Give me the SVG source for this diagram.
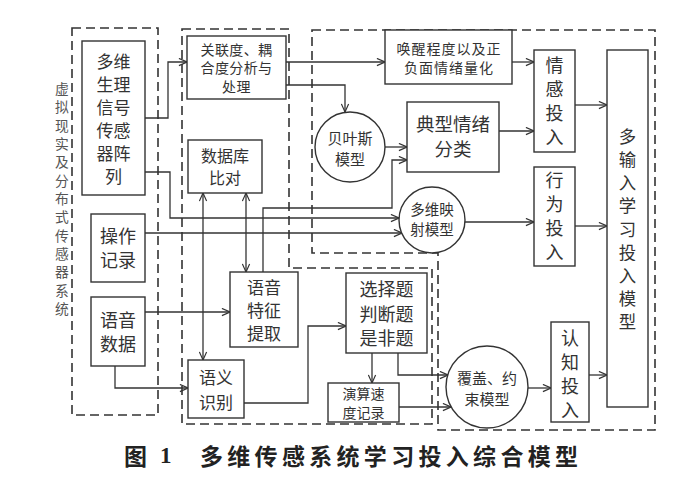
<svg xmlns="http://www.w3.org/2000/svg" width="700" height="491" viewBox="0 0 700 491">
<style>
.bx{fill:#fff;stroke:#333;stroke-width:1.4}
.ds{fill:none;stroke:#333;stroke-width:1.6;stroke-dasharray:9 5}
.ln{fill:none;stroke:#333;stroke-width:1.3}
text{font-family:"Noto Sans CJK SC","Noto Sans CJK TC",sans-serif;fill:#333;text-anchor:middle;dominant-baseline:central}
.t14{font-size:14px}.t145{font-size:14.5px}.t15{font-size:15px}.t16{font-size:16px}.t17{font-size:17px}.t18{font-size:18px}.t185{font-size:18.5px}.t174{font-size:17.4px}
.lab{font-size:13.8px;fill:#555}
.cap{font-size:23px;font-weight:bold;fill:#222;text-anchor:start}
</style>
<defs>
<marker id="ar" viewBox="0 0 10 10" refX="10" refY="5" markerWidth="9" markerHeight="9" markerUnits="userSpaceOnUse" orient="auto-start-reverse">
<path d="M1,1 L10,5 L1,9" fill="none" stroke="#333" stroke-width="1.3"/>
</marker>
</defs>
<rect width="700" height="491" fill="#fff"/>
<g id="regions">
<rect class="ds" x="72" y="28" width="86" height="387"/>
<path class="ds" d="M182,29 H289 V268 H432 V424 H182 Z"/>
<path class="ds" d="M312,30 H655 V430 H438 V253 H312 Z"/>
</g>
<g id="region-label">
<text class="lab"><tspan x="62" y="88">虚</tspan><tspan x="62" y="106.3">拟</tspan><tspan x="62" y="124.7">现</tspan><tspan x="62" y="143">实</tspan><tspan x="62" y="161.3">及</tspan><tspan x="62" y="179.7">分</tspan><tspan x="62" y="198">布</tspan><tspan x="62" y="216.3">式</tspan><tspan x="62" y="234.7">传</tspan><tspan x="62" y="253">感</tspan><tspan x="62" y="271.3">器</tspan><tspan x="62" y="289.7">系</tspan><tspan x="62" y="308">统</tspan></text>
</g>
<g id="connectors" marker-end="url(#ar)">
<path class="ln" d="M145,118 H168 V62 H187"/>
<path class="ln" d="M145,172 H170 V218 H399"/>
<path class="ln" d="M145,233 H402"/>
<path class="ln" d="M286,62 H385"/>
<path class="ln" d="M286,85 H345 V112"/>
<path class="ln" d="M385,147 H407"/>
<path class="ln" d="M263,272 V208 H392 V160 H407"/>
<path class="ln" d="M512,62 H534"/>
<path class="ln" d="M499,131 H534"/>
<path class="ln" d="M575,105 H607"/>
<path class="ln" d="M465,222 H534"/>
<path class="ln" d="M575,226 H607"/>
<path class="ln" d="M528,388 H551"/>
<path class="ln" d="M589,375 H607"/>
<path class="ln" d="M203,193 V360" marker-start="url(#ar)"/>
<path class="ln" d="M246,193 V272" marker-start="url(#ar)"/>
<path class="ln" d="M145,312 H230"/>
<path class="ln" d="M115,366 V388 H188"/>
<path class="ln" d="M244,403 H308 V326 H346"/>
<path class="ln" d="M372,353 V383"/>
<path class="ln" d="M398,353 V375 H448"/>
<path class="ln" d="M399,407 H451"/>
</g>
<g id="sensor-array">
<rect class="bx" x="82" y="41" width="63" height="154"/>
<text class="t17"><tspan x="113.5" y="60">多维</tspan><tspan x="113.5" y="83">生理</tspan><tspan x="113.5" y="106">信号</tspan><tspan x="113.5" y="129">传感</tspan><tspan x="113.5" y="152">器阵</tspan><tspan x="113.5" y="175">列</tspan></text>
</g>
<g id="operation-record">
<rect class="bx" x="91" y="214" width="54" height="68"/>
<text class="t18"><tspan x="118" y="235">操作</tspan><tspan x="118" y="259">记录</tspan></text>
</g>
<g id="voice-data">
<rect class="bx" x="91" y="297" width="54" height="69"/>
<text class="t18"><tspan x="118" y="319">语音</tspan><tspan x="118" y="343">数据</tspan></text>
</g>
<g id="correlation">
<rect class="bx" x="187" y="36" width="99" height="63"/>
<text class="t14" style="letter-spacing:0.4px"><tspan x="236.5" y="48.5">关联度、耦</tspan><tspan x="236.5" y="67">合度分析与</tspan><tspan x="236.5" y="86">处理</tspan></text>
</g>
<g id="database">
<rect class="bx" x="188" y="140" width="74" height="53"/>
<text class="t16"><tspan x="225" y="155">数据库</tspan><tspan x="225" y="177">比对</tspan></text>
</g>
<g id="voice-feature">
<rect class="bx" x="230" y="272" width="68" height="75"/>
<text class="t17"><tspan x="264" y="286">语音</tspan><tspan x="264" y="309">特征</tspan><tspan x="264" y="332">提取</tspan></text>
</g>
<g id="semantic">
<rect class="bx" x="188" y="360" width="56" height="58"/>
<text class="t17"><tspan x="216" y="376">语义</tspan><tspan x="216" y="401">识别</tspan></text>
</g>
<g id="questions">
<rect class="bx" x="346" y="273" width="81" height="80"/>
<text class="t18"><tspan x="386.5" y="288">选择题</tspan><tspan x="386.5" y="313">判断题</tspan><tspan x="386.5" y="337">是非题</tspan></text>
</g>
<g id="calc-speed">
<rect class="bx" x="328" y="383" width="71" height="39"/>
<text class="t14"><tspan x="363.5" y="393">演算速</tspan><tspan x="363.5" y="412">度记录</tspan></text>
</g>
<g id="arousal">
<rect class="bx" x="385" y="30" width="127" height="54"/>
<text class="t14" style="letter-spacing:1px"><tspan x="449" y="48">唤醒程度以及正</tspan><tspan x="449" y="67">负面情绪量化</tspan></text>
</g>
<g id="emotion-class">
<rect class="bx" x="407" y="102" width="92" height="70"/>
<text class="t185"><tspan x="453" y="123">典型情绪</tspan><tspan x="453" y="148">分类</tspan></text>
</g>
<g id="bayes">
<circle class="bx" cx="350" cy="147" r="35"/>
<text class="t15"><tspan x="350" y="137">贝叶斯</tspan><tspan x="350" y="158">模型</tspan></text>
</g>
<g id="mapping">
<circle class="bx" cx="432" cy="220" r="33"/>
<text class="t145"><tspan x="432" y="208">多维映</tspan><tspan x="432" y="228">射模型</tspan></text>
</g>
<g id="constraint">
<circle class="bx" cx="487" cy="387" r="41"/>
<text class="t15"><tspan x="487" y="377">覆盖、约</tspan><tspan x="487" y="397.5">束模型</tspan></text>
</g>
<g id="emotional-input">
<rect class="bx" x="534" y="50" width="41" height="102"/>
<text class="t18"><tspan x="554.5" y="64">情</tspan><tspan x="554.5" y="88">感</tspan><tspan x="554.5" y="112">投</tspan><tspan x="554.5" y="136">入</tspan></text>
</g>
<g id="behavior-input">
<rect class="bx" x="534" y="167" width="41" height="99"/>
<text class="t18"><tspan x="554.5" y="179">行</tspan><tspan x="554.5" y="203">为</tspan><tspan x="554.5" y="227">投</tspan><tspan x="554.5" y="251">入</tspan></text>
</g>
<g id="cognitive-input">
<rect class="bx" x="551" y="322" width="38" height="100"/>
<text class="t18"><tspan x="570" y="337">认</tspan><tspan x="570" y="361">知</tspan><tspan x="570" y="385">投</tspan><tspan x="570" y="409">入</tspan></text>
</g>
<g id="multi-input-model">
<rect class="bx" x="607" y="50" width="41" height="357"/>
<text class="t174"><tspan x="627.5" y="135">多</tspan><tspan x="627.5" y="158.1">输</tspan><tspan x="627.5" y="181.3">入</tspan><tspan x="627.5" y="204.4">学</tspan><tspan x="627.5" y="227.5">习</tspan><tspan x="627.5" y="250.6">投</tspan><tspan x="627.5" y="273.8">入</tspan><tspan x="627.5" y="296.9">模</tspan><tspan x="627.5" y="320">型</tspan></text>
</g>
<g id="caption">
<text class="cap" y="455"><tspan x="124">图</tspan><tspan x="160" style="font-family:'Liberation Serif',serif">1</tspan><tspan x="200" textLength="378" lengthAdjust="spacing">多维传感系统学习投入综合模型</tspan></text>
</g>
</svg>
